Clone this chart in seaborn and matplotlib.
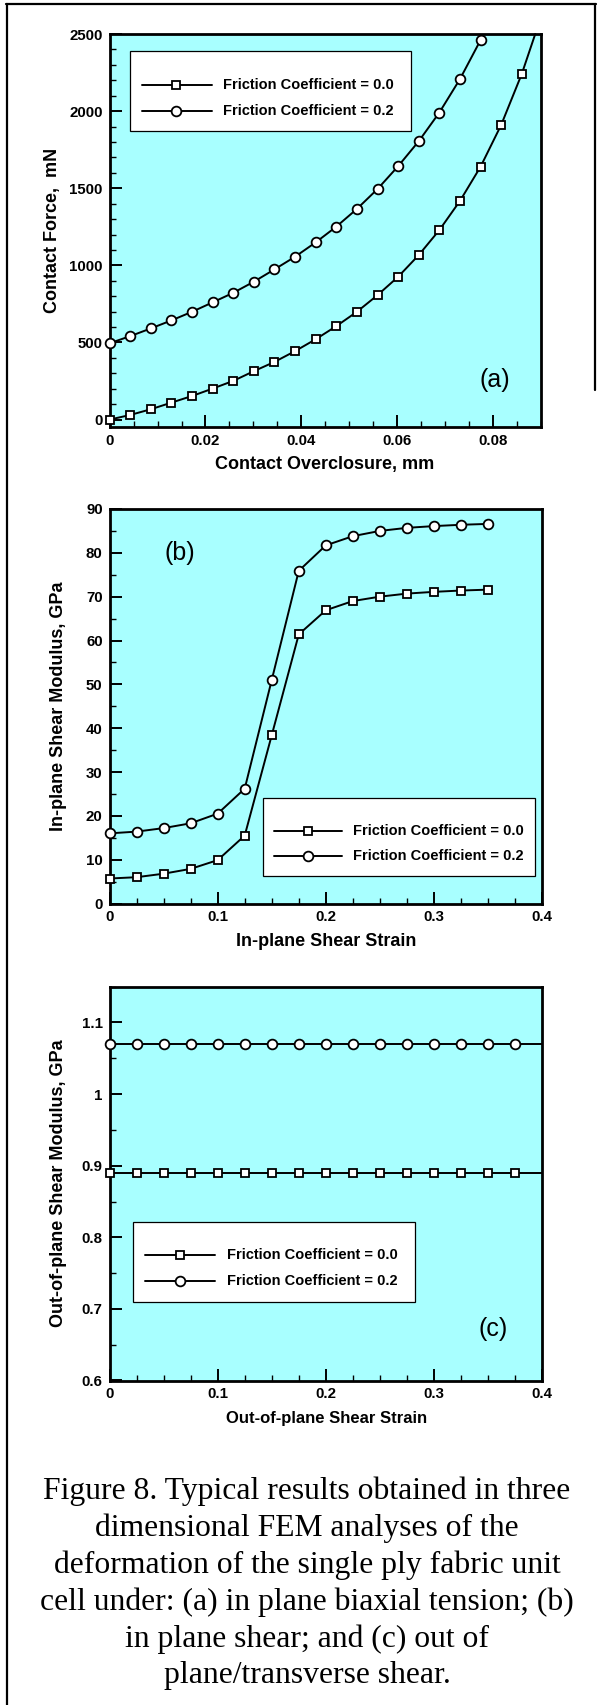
import matplotlib
matplotlib.use("Agg")
import matplotlib.pyplot as plt
import seaborn as sns
from matplotlib.ticker import MultipleLocator, FormatStrFormatter
from matplotlib.patches import Rectangle
from matplotlib.lines import Line2D

# ---------------- data ----------------
labels = ["Friction Coefficient = 0.0", "Friction Coefficient = 0.2"]

# (a) contact force vs overclosure
xa = [0, 0.0043, 0.0086, 0.0129, 0.0172, 0.0215, 0.0258, 0.0301, 0.0344, 0.0387,
      0.0430, 0.0473, 0.0516, 0.0559, 0.0602, 0.0645, 0.0688, 0.0731, 0.0774,
      0.0817, 0.0860]
fa_mu0 = [0, 30, 67, 110, 153, 201, 251, 314, 374, 444, 521, 606, 699, 807, 926,
          1067, 1229, 1418, 1640, 1911, 2242]
fa_mu0_end_x = [0.0888]
fa_mu0_end_y = [2500]
fa_mu2 = [495, 541, 591, 643, 699, 760, 822, 894, 974, 1056, 1149, 1251, 1366,
          1495, 1643, 1805, 1991, 2208, 2461]

# (b) in-plane shear modulus vs strain
xb = [0, 0.025, 0.05, 0.075, 0.1, 0.125, 0.15, 0.175, 0.2, 0.225, 0.25, 0.275,
      0.3, 0.325, 0.35]
gb_mu0 = [5.7, 6.0, 6.8, 7.9, 9.9, 15.5, 38.4, 61.4, 66.9, 69.0, 70.0, 70.7,
          71.1, 71.4, 71.6]
gb_mu2 = [16.0, 16.4, 17.2, 18.3, 20.5, 26.2, 51.0, 75.9, 81.7, 83.8, 85.0,
          85.7, 86.1, 86.4, 86.6]

# (c) out-of-plane shear modulus vs strain
xc = [0, 0.025, 0.05, 0.075, 0.1, 0.125, 0.15, 0.175, 0.2, 0.225, 0.25, 0.275,
      0.3, 0.325, 0.35, 0.375, 0.4]
gc_mu0 = [0.89] * 17
gc_mu2 = [1.07] * 17

caption = ["Figure 8. Typical results obtained in three",
           "dimensional FEM analyses of the",
           "deformation of the single ply fabric unit",
           "cell under: (a) in plane biaxial tension; (b)",
           "in plane shear; and (c) out of",
           "plane/transverse shear."]

# ---------------- style ----------------
sns.set_theme(style="ticks")
plt.rcParams["font.family"] = ["Liberation Sans", "DejaVu Sans"]
plt.rcParams["font.weight"] = "bold"
plt.rcParams["axes.labelweight"] = "bold"
plt.rcParams["text.color"] = "black"
plt.rcParams["axes.labelcolor"] = "black"
plt.rcParams["xtick.color"] = "black"
plt.rcParams["ytick.color"] = "black"

W, H = 602, 1705
fig = plt.figure(figsize=(W / 100, H / 100), dpi=100)
fig.patch.set_facecolor("white")
FACE = "#A8FFFF"


def fx(x):
    return x / W


def fy(y):
    return 1 - y / H


def make_axes(left, top, right, bottom):
    ax = fig.add_axes([left / W, 1 - bottom / H, (right - left) / W, (bottom - top) / H])
    ax.set_facecolor(FACE)
    for s in ax.spines.values():
        s.set_color("black")
        s.set_linewidth(2.0)
        s.set_zorder(3)
    ax.tick_params(which="major", direction="in", length=8.5, width=1.4,
                   labelsize=10.8, pad=5, colors="black", top=False, right=False)
    ax.tick_params(which="minor", direction="in", length=4.3, width=1.0,
                   top=False, right=False, colors="black")
    return ax


line_kw = dict(color="black", linewidth=1.4, markerfacecolor="white",
               markeredgecolor="black", markeredgewidth=1.3, clip_on=False,
               zorder=4, estimator=None, sort=False)
SQ = dict(marker="s", markersize=6.0)
CI = dict(marker="o", markersize=7.0)

# ---------- panel (a) ----------
ax = make_axes(109.6, 34, 541, 427.3)
sns.lineplot(x=xa + fa_mu0_end_x, y=fa_mu0 + fa_mu0_end_y, ax=ax,
             markevery=list(range(len(xa))), **SQ, **line_kw)
sns.lineplot(x=xa[:len(fa_mu2)], y=fa_mu2, ax=ax, **CI, **line_kw)
ax.set_xlim(0, 0.09)
ax.set_ylim(-50, 2500)
ax.xaxis.set_major_locator(MultipleLocator(0.02))
ax.xaxis.set_minor_locator(MultipleLocator(0.005))
ax.yaxis.set_major_locator(MultipleLocator(500))
ax.yaxis.set_minor_locator(MultipleLocator(100))
ax.xaxis.set_major_formatter(FormatStrFormatter("%g"))
ax.yaxis.set_major_formatter(FormatStrFormatter("%g"))
ax.set_xlabel("")
ax.set_ylabel("")
fig.text(fx(52.5), fy(230.7), "Contact Force,  mN", rotation=90, ha="center",
         va="center", fontsize=13, weight="bold")
fig.text(fx(325), fy(465), "Contact Overclosure, mm", ha="center", va="center",
         fontsize=13, weight="bold")
fig.text(fx(495), fy(380), "(a)", ha="center", va="center", fontsize=18,
         weight="normal")

# ---------- panel (b) ----------
ax = make_axes(109.6, 509, 542, 903.5)
sns.lineplot(x=xb, y=gb_mu0, ax=ax, **SQ, **line_kw)
sns.lineplot(x=xb, y=gb_mu2, ax=ax, **CI, **line_kw)
ax.set_xlim(0, 0.4)
ax.set_ylim(0, 90)
ax.xaxis.set_major_locator(MultipleLocator(0.1))
ax.xaxis.set_minor_locator(MultipleLocator(0.025))
ax.yaxis.set_major_locator(MultipleLocator(10))
ax.yaxis.set_minor_locator(MultipleLocator(5))
ax.xaxis.set_major_formatter(FormatStrFormatter("%g"))
ax.yaxis.set_major_formatter(FormatStrFormatter("%g"))
ax.set_xlabel("")
ax.set_ylabel("")
fig.text(fx(58.5), fy(706), "In-plane Shear Modulus, GPa", rotation=90,
         ha="center", va="center", fontsize=13, weight="bold")
fig.text(fx(326.5), fy(941), "In-plane Shear Strain", ha="center", va="center",
         fontsize=13, weight="bold")
fig.text(fx(179.6), fy(553), "(b)", ha="center", va="center", fontsize=18,
         weight="normal")

# ---------- panel (c) ----------
ax = make_axes(109.6, 986.7, 542, 1380.5)
n_mk = len(xc) - 1
sns.lineplot(x=xc, y=gc_mu0, ax=ax, markevery=list(range(n_mk)), **SQ, **line_kw)
sns.lineplot(x=xc, y=gc_mu2, ax=ax, markevery=list(range(n_mk)), **CI, **line_kw)
ax.set_xlim(0, 0.4)
ax.set_ylim(0.6, 1.15)
ax.xaxis.set_major_locator(MultipleLocator(0.1))
ax.xaxis.set_minor_locator(MultipleLocator(0.025))
ax.yaxis.set_major_locator(MultipleLocator(0.1))
ax.yaxis.set_minor_locator(MultipleLocator(0.05))
ax.xaxis.set_major_formatter(FormatStrFormatter("%g"))
ax.yaxis.set_major_formatter(FormatStrFormatter("%g"))
ax.set_xlabel("")
ax.set_ylabel("")
fig.text(fx(58.5), fy(1183), "Out-of-plane Shear Modulus, GPa", rotation=90,
         ha="center", va="center", fontsize=13, weight="bold")
fig.text(fx(326.5), fy(1418), "Out-of-plane Shear Strain", ha="center",
         va="center", fontsize=12, weight="bold")
fig.text(fx(493), fy(1329), "(c)", ha="center", va="center", fontsize=18,
         weight="normal")


# ---------- legends ----------
def draw_legend(box, rows_y, lx0, lx1, mx, tx):
    x0, y0, x1, y1 = box
    fig.add_artist(Rectangle((fx(x0), fy(y1)), (x1 - x0) / W, (y1 - y0) / H,
                             transform=fig.transFigure, facecolor="white",
                             edgecolor="black", linewidth=0.9, zorder=10))
    for ry, mk, lab in zip(rows_y, [SQ, CI], labels):
        fig.add_artist(Line2D([fx(lx0), fx(lx1)], [fy(ry), fy(ry)],
                              transform=fig.transFigure, color="black",
                              linewidth=1.4, zorder=11))
        fig.add_artist(Line2D([fx(mx)], [fy(ry)], transform=fig.transFigure,
                              linestyle="none", markerfacecolor="white",
                              markeredgecolor="black", markeredgewidth=1.3,
                              zorder=12, **mk))
        fig.text(fx(tx), fy(ry), lab, ha="left", va="center", fontsize=10.5,
                 weight="bold", zorder=12)


draw_legend((130, 51, 411, 131), (85, 111), 141.5, 211.5, 176, 223)
draw_legend((262.7, 797.7, 535, 875.7), (831, 856), 274, 342, 308, 353)
draw_legend((132.7, 1221.7, 414.6, 1301.7), (1255, 1281), 144.6, 215.4, 180, 227)

# ---------- caption ----------
base_y = [1499, 1536, 1573, 1610, 1646.5, 1683.5]
for line, by in zip(caption, base_y):
    fig.text(fx(307), fy(by), line, ha="center", va="baseline", fontsize=22.8,
             family=["Liberation Serif", "DejaVu Serif"], weight="normal",
             color="black")

# ---------- outer frame ----------
fig.add_artist(Line2D([fx(7), fx(7)], [fy(3.5), fy(1705)], transform=fig.transFigure,
                      color="black", linewidth=1.6))
fig.add_artist(Line2D([fx(6.2), fx(595.5)], [fy(4), fy(4)], transform=fig.transFigure,
                      color="black", linewidth=1.6))
fig.add_artist(Line2D([fx(595), fx(595)], [fy(3.5), fy(390)], transform=fig.transFigure,
                      color="black", linewidth=1.6))

fig.savefig("out.png", dpi=100, facecolor="white")
